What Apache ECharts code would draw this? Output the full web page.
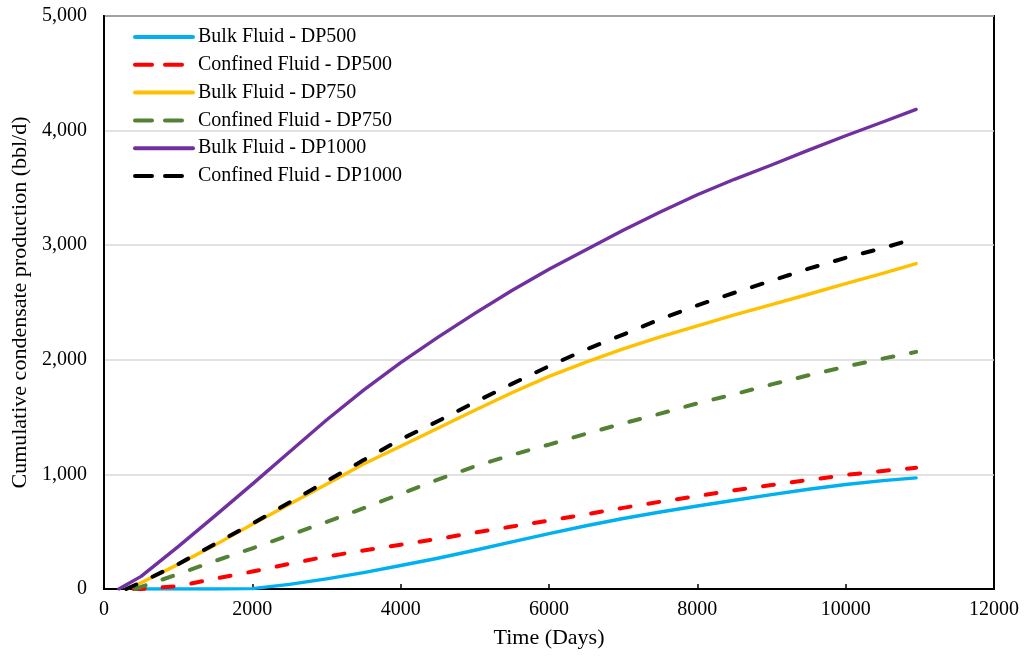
<!DOCTYPE html>
<html>
<head>
<meta charset="utf-8">
<title>Cumulative condensate production</title>
<script src="https://cdn.jsdelivr.net/npm/echarts@6/dist/echarts.min.js"></script>
<style>
  html, body { margin: 0; padding: 0; background: #fff; }
  #chart { width: 1026px; height: 659px; }
</style>
</head>
<body>
<div id="chart"></div>
<script>
// Time grid shared by every curve (days)
const days = [500, 1000, 1500, 2000, 2500, 3000, 3500, 4000, 4500, 5000, 5500,
              6000, 6500, 7000, 7500, 8000, 8500, 9000, 9500, 10000, 10500, 10950];

// Day on which each curve leaves zero
const onsetBulk500 = 500;
const onsetConf500 = 400;
const onsetBulk750 = 300;
const onsetConf750 = 420;
const onsetBulk1000 = 200;
const onsetConf1000 = 300;

// Cumulative condensate production (bbl/d) at each day in `days`
const bulk500  = [0, 0, 0, 3, 40, 88, 143, 205, 268, 338, 412, 483, 552, 615, 672, 724, 774, 823, 870, 912, 946, 970];
const conf500  = [0, 25, 90, 152, 220, 283, 336, 387, 437, 492, 545, 597, 652, 708, 762, 810, 862, 907, 951, 995, 1030, 1058];
const bulk750  = [55, 215, 385, 565, 740, 915, 1090, 1245, 1403, 1560, 1712, 1855, 1980, 2095, 2200, 2297, 2392, 2482, 2572, 2665, 2755, 2840];
const conf750  = [18, 130, 245, 355, 470, 585, 705, 830, 955, 1070, 1170, 1260, 1355, 1445, 1530, 1620, 1700, 1785, 1865, 1940, 2010, 2069];
const bulk1000 = [110, 370, 640, 915, 1195, 1475, 1735, 1975, 2195, 2405, 2605, 2790, 2960, 3130, 3290, 3440, 3575, 3700, 3830, 3955, 4075, 4185];
const conf1000 = [58, 217, 395, 570, 755, 940, 1125, 1305, 1464, 1630, 1790, 1945, 2090, 2220, 2355, 2475, 2585, 2690, 2795, 2890, 2975, 3060];

const seriesNames = [
  'Bulk Fluid - DP500', 'Confined Fluid - DP500',
  'Bulk Fluid - DP750', 'Confined Fluid - DP750',
  'Bulk Fluid - DP1000', 'Confined Fluid - DP1000'
];

// Axis ranges and ticks
const xMin = 0, xMax = 12000, xStep = 2000;
const yMin = 0, yMax = 5000, yStep = 1000;

function pairs(onset, values) {
  return [[onset, 0]].concat(days.map((d, i) => [d, values[i]]));
}

const serif = '"Liberation Serif", "Times New Roman", serif';

function lineSeries(name, onset, values, color, dashed) {
  return {
    name: name,
    type: 'line',
    data: pairs(onset, values),
    showSymbol: false,
    symbol: 'none',
    smooth: false,
    lineStyle: dashed
      ? { color: color, width: 4, type: [11, 18], cap: 'round', join: 'round' }
      : { color: color, width: 3.4, cap: 'round', join: 'round' },
    itemStyle: { color: color },
    animation: false
  };
}

// Legend entries: solid keys for bulk fluid, two-dash keys for confined fluid
const legendData = seriesNames.map((n, i) => ({
  name: n,
  lineStyle: i % 2 === 1
    ? { width: 4, type: [17, 13], cap: 'round' }
    : { width: 4, type: 'solid', cap: 'round' }
}));

const chart = echarts.init(document.getElementById('chart'), null, { renderer: 'canvas' });

chart.setOption({
  backgroundColor: '#ffffff',
  animation: false,
  textStyle: { fontFamily: serif, color: '#000' },
  grid: {
    left: 104, right: 32, top: 16, bottom: 70,
    show: true, borderColor: '#000', borderWidth: 2, backgroundColor: 'transparent'
  },
  legend: {
    orient: 'vertical',
    left: 128, top: 22,
    itemWidth: 58, itemHeight: 14, itemGap: 7.8,
    itemStyle: { opacity: 0 },
    textStyle: { fontFamily: serif, fontSize: 20, color: '#000' },
    data: legendData
  },
  xAxis: {
    type: 'value',
    min: xMin, max: xMax, interval: xStep,
    name: 'Time (Days)',
    nameLocation: 'middle',
    nameGap: 38,
    nameTextStyle: { fontFamily: serif, fontSize: 22, color: '#000' },
    axisLine: { show: true, lineStyle: { color: '#000', width: 2 } },
    axisTick: { show: true, inside: true, length: 5, lineStyle: { color: '#000', width: 1.5 } },
    axisLabel: {
      fontFamily: serif, fontSize: 20, color: '#000', margin: 11,
      formatter: v => String(v)
    },
    splitLine: { show: false }
  },
  yAxis: {
    type: 'value',
    min: yMin, max: yMax, interval: yStep,
    name: 'Cumulative condensate production (bbl/d)',
    nameLocation: 'middle',
    nameGap: 68,
    nameRotate: 90,
    nameTextStyle: { fontFamily: serif, fontSize: 22, color: '#000' },
    axisLine: { show: true, lineStyle: { color: '#000', width: 2 } },
    axisTick: { show: false },
    axisLabel: {
      fontFamily: serif, fontSize: 20, color: '#000', margin: 17,
      formatter: v => v.toLocaleString('en-US')
    },
    splitLine: { show: true, lineStyle: { color: '#d9d9d9', width: 1.5 } }
  },
  series: [
    lineSeries(seriesNames[0], onsetBulk500, bulk500, '#00b0f0', false),
    lineSeries(seriesNames[1], onsetConf500, conf500, '#ff0000', true),
    lineSeries(seriesNames[2], onsetBulk750, bulk750, '#ffc000', false),
    lineSeries(seriesNames[3], onsetConf750, conf750, '#548235', true),
    lineSeries(seriesNames[4], onsetBulk1000, bulk1000, '#7030a0', false),
    lineSeries(seriesNames[5], onsetConf1000, conf1000, '#000000', true)
  ]
});
</script>
</body>
</html>
